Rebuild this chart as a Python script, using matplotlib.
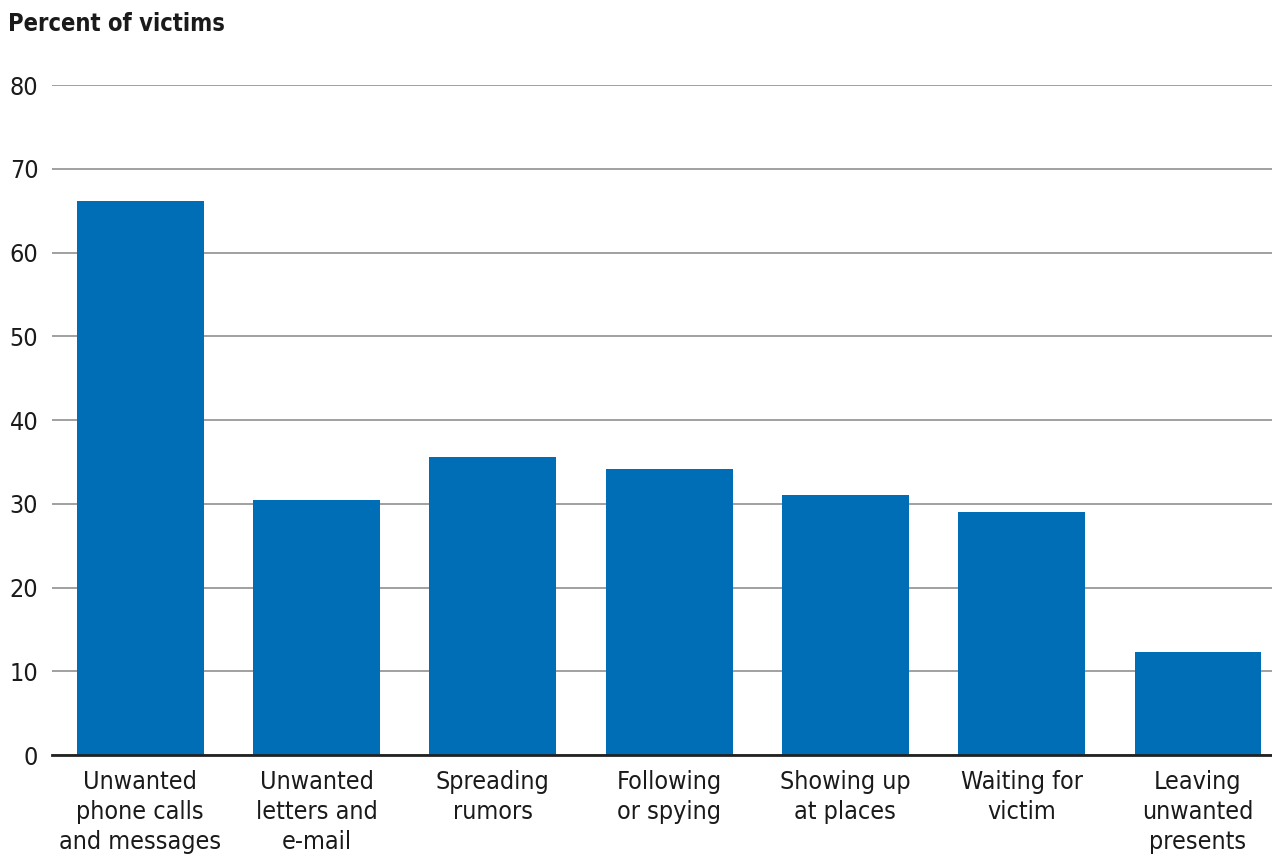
import matplotlib
matplotlib.use('Agg')
import matplotlib.pyplot as plt

categories = ['Unwanted\nphone calls\nand messages', 'Unwanted\nletters and\ne-mail',
              'Spreading\nrumors', 'Following\nor spying', 'Showing up\nat places',
              'Waiting for\nvictim', 'Leaving\nunwanted\npresents']
percent = [66.1, 30.5, 35.6, 34.2, 31.1, 29.0, 12.3]
y_ticks = [0, 10, 20, 30, 40, 50, 60, 70, 80]

plt.rcParams['font.family'] = ['DejaVu Sans']
plt.rcParams['font.stretch'] = 'condensed'

fig = plt.figure(figsize=(12.72, 8.59), dpi=100)
ax = fig.add_axes([0.041, 0.121, 0.959, 0.780])

x = range(len(categories))
ax.bar(x, percent, width=0.72, color='#006eb7', zorder=3)

ax.set_ylim(0, 80)
ax.set_xlim(-0.5, 6.42)
ax.set_yticks(y_ticks)
ax.set_yticklabels([str(v) for v in y_ticks], fontsize=18)
ax.set_xticks(list(x))
ax.set_xticklabels(categories, fontsize=18, linespacing=1.32)
ax.tick_params(axis='both', length=0, colors='#1a1a1a')
ax.tick_params(axis='y', pad=10)
ax.tick_params(axis='x', pad=11)

ax.grid(axis='y', color='#a0a0a0', linewidth=1.4, zorder=1)
for s in ['top', 'right', 'left']:
    ax.spines[s].set_visible(False)
ax.spines['bottom'].set_color('#222222')
ax.spines['bottom'].set_linewidth(2)
ax.spines['bottom'].set_zorder(4)

fig.text(0.006, 0.972, 'Percent of victims', fontsize=17, fontweight='bold',
         ha='left', va='center', color='#1a1a1a')

fig.savefig('out.png', dpi=100)
